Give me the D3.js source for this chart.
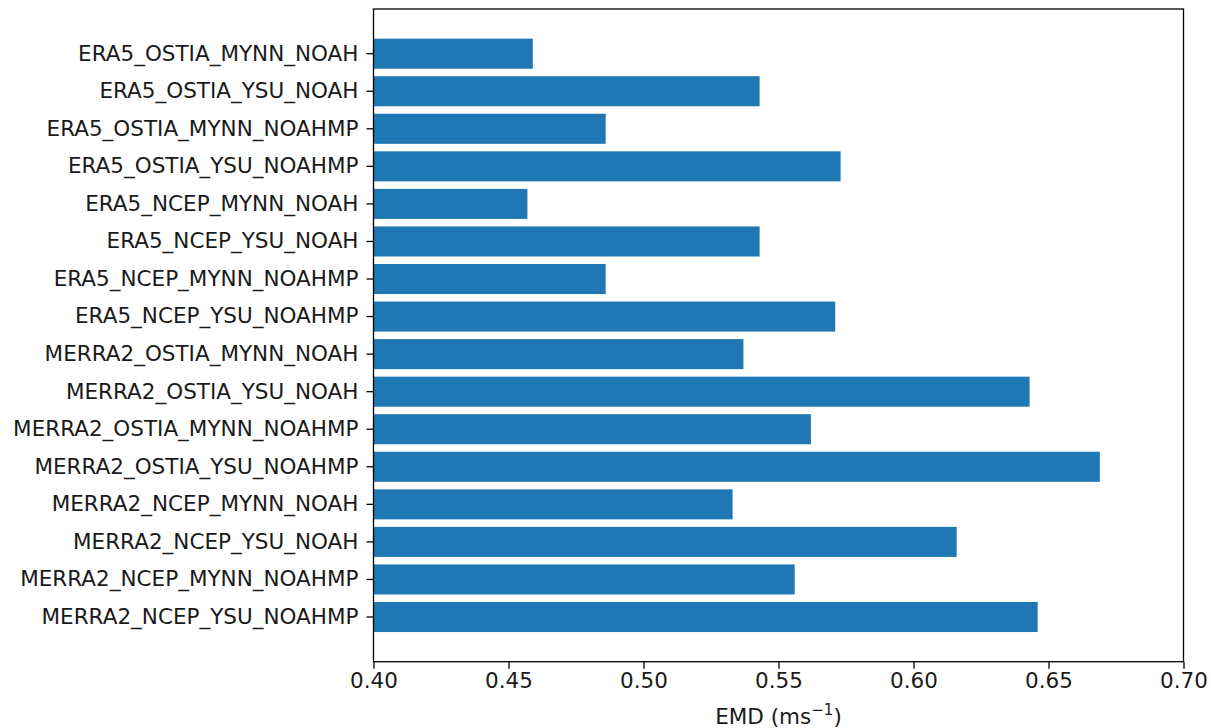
<!DOCTYPE html>
<html lang="en">
<head>
  <meta charset="UTF-8">
  <style>
    body {
      margin: 0;
      background: #fff;
      overflow: hidden;
    }

    svg {
      display: block;
      font-family: "DejaVu Sans", sans-serif;
    }

    .bar {
      fill: #1f77b4;
    }

    .axis text {
      font-family: "DejaVu Sans", sans-serif;
      font-size: 21.5px;
      fill: #1a1a1a;
    }

    .axis path,
    .axis line {
      stroke: #000;
      stroke-width: 1.3;
    }
  </style>
  <script src="https://d3js.org/d3.v7.min.js"></script>
</head>
<body>

<svg id="chart"></svg>

<script>
  // runs, top to bottom
  const runs = [
    "ERA5_OSTIA_MYNN_NOAH",
    "ERA5_OSTIA_YSU_NOAH",
    "ERA5_OSTIA_MYNN_NOAHMP",
    "ERA5_OSTIA_YSU_NOAHMP",
    "ERA5_NCEP_MYNN_NOAH",
    "ERA5_NCEP_YSU_NOAH",
    "ERA5_NCEP_MYNN_NOAHMP",
    "ERA5_NCEP_YSU_NOAHMP",
    "MERRA2_OSTIA_MYNN_NOAH",
    "MERRA2_OSTIA_YSU_NOAH",
    "MERRA2_OSTIA_MYNN_NOAHMP",
    "MERRA2_OSTIA_YSU_NOAHMP",
    "MERRA2_NCEP_MYNN_NOAH",
    "MERRA2_NCEP_YSU_NOAH",
    "MERRA2_NCEP_MYNN_NOAHMP",
    "MERRA2_NCEP_YSU_NOAHMP"
  ];

  // EMD values (ms-1)
  const emd = [
    0.459, 0.543, 0.486, 0.573,
    0.457, 0.543, 0.486, 0.571,
    0.537, 0.643, 0.562, 0.669,
    0.533, 0.616, 0.556, 0.646
  ];

  const xTicks = [0.40, 0.45, 0.50, 0.55, 0.60, 0.65, 0.70];
  const xDomain = [0.40, 0.70];

  const width = 1211, height = 728;
  const margin = { top: 9, right: 27.5, bottom: 66.3, left: 373.5 };
  const plotW = width - margin.left - margin.right;
  const plotH = height - margin.top - margin.bottom;

  const svg = d3.select("#chart")
    .attr("width", width)
    .attr("height", height);

  const g = svg.append("g")
    .attr("transform", `translate(${margin.left},${margin.top})`);

  const x = d3.scaleLinear()
    .domain(xDomain)
    .range([0, plotW]);

  // matplotlib style: bar height 0.8, 5% margins
  const y = d3.scaleBand()
    .domain(runs)
    .range([0, plotH])
    .paddingInner(0.2)
    .paddingOuter(0.79);

  const data = runs.map((name, i) => ({ name: name, value: emd[i] }));

  g.selectAll(".bar")
    .data(data)
    .join("rect")
    .attr("class", "bar")
    .attr("x", x(xDomain[0]))
    .attr("y", d => y(d.name))
    .attr("width", d => x(d.value) - x(xDomain[0]))
    .attr("height", y.bandwidth());

  // x axis
  g.append("g")
    .attr("class", "axis")
    .attr("transform", `translate(0,${plotH})`)
    .call(d3.axisBottom(x).tickValues(xTicks).tickFormat(d3.format(".2f"))
      .tickSizeInner(7).tickSizeOuter(0).tickPadding(4))
    .call(a => a.select(".domain").remove());

  // y axis
  g.append("g")
    .attr("class", "axis")
    .call(d3.axisLeft(y).tickSizeInner(7).tickSizeOuter(0).tickPadding(8))
    .call(a => a.select(".domain").remove());

  // frame
  g.append("rect")
    .attr("width", plotW)
    .attr("height", plotH)
    .attr("fill", "none")
    .attr("stroke", "#000")
    .attr("stroke-width", 1.3);

  // x label
  const label = svg.append("text")
    .attr("x", margin.left + plotW / 2)
    .attr("y", 724)
    .attr("text-anchor", "middle")
    .attr("font-size", 21.5)
    .attr("fill", "#1a1a1a");
  label.append("tspan").text("EMD (ms");
  label.append("tspan").attr("dy", -9).attr("font-size", 15).text("\u22121");
  label.append("tspan").attr("dy", 9).text(")");
</script>

</body>
</html>
